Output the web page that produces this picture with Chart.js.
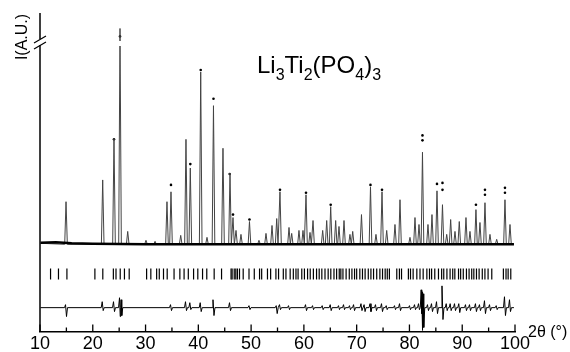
<!DOCTYPE html>
<html>
<head>
<meta charset="utf-8">
<script src="https://cdn.jsdelivr.net/npm/chart.js@4/dist/chart.umd.min.js"></script>
<style>
  body { margin: 0; background: #fff; }
  #wrap { width: 570px; height: 352px; }
</style>
</head>
<body>
<div id="wrap"><canvas id="myChart"></canvas></div>
<script>
// peak positions (2theta) and calculated heights above background
const peakPos = [14.93, 21.88, 24.02, 25.16, 26.62, 30.08, 31.8, 34.06, 34.82, 36.66, 37.66, 38.48,
  40.45, 41.64, 42.87, 44.67, 46.0, 46.57, 47.14, 48.08, 49.69, 51.49, 52.82, 53.96, 54.85, 55.47,
  57.18, 57.69, 59.07, 59.83, 60.4, 61.16, 61.73, 63.56, 64.32, 65.08, 66.02, 66.65, 67.6, 68.73,
  69.25, 70.91, 72.62, 73.66, 74.8, 75.69, 77.26, 78.21, 80.1, 81.05, 81.81, 82.47, 83.51, 84.27,
  85.22, 86.26, 87.06, 87.81, 88.63, 89.44, 90.71, 91.47, 92.6, 93.36, 94.31, 95.26, 96.53, 98.1, 99.05]
const peakCalc = [43, 65, 107, 218, 13, 4, 3, 43, 53, 9, 106, 77,
  174, 7, 140, 97, 72, 27, 14, 10, 23, 4, 11, 19, 26, 53,
  17, 11, 14, 14, 50, 12, 24, 14, 24, 38, 24, 18, 24, 10,
  13, 30, 58, 10, 53, 14, 20, 45, 7, 27, 20, 93, 20, 30,
  54, 40, 10, 25, 13, 23, 27, 13, 35, 22, 42, 10, 5, 45, 20]

// observed points sitting above the calculated peak tops
const obsX = [24.02, 25.16, 34.82, 38.48, 40.45, 42.87, 45.94, 46.57, 49.69, 55.47, 60.4, 65.08,
  72.62, 74.8, 82.47, 82.47, 85.22, 86.26, 86.26, 92.6, 94.31, 94.31, 98.1, 98.1]
const obsY = [106, 210, 60, 81, 176, 147, 71, 30, 25, 55, 52, 40,
  60, 55, 110, 105, 61, 62, 55, 40, 55, 50, 57, 52]

// background of observed pattern
const bgX = [10.1, 13, 16, 20, 30, 40, 50, 60, 70, 80, 90, 99.8]
const bgY = [1.5, 2, 1, 0.5, 0, 0, 0, 0, 0, 0, 0, 0]

// Bragg reflection positions
const braggPos = [12.0, 13.5, 15.1, 20.4, 21.9, 23.9, 24.4, 25.2, 26.0, 26.9, 30.2, 31.0, 32.1, 32.6,
  33.4, 34.1, 35.4, 36.5, 37.3, 38.1, 39.1, 39.9, 40.8, 41.6, 43.0, 44.4, 46.2, 46.4, 46.8, 47.1,
  47.4, 47.8, 48.5, 49.6, 50.6, 51.6, 52.0, 53.1, 53.7, 54.7, 55.2, 56.1, 56.6, 57.4, 58.0, 58.5,
  58.9, 59.6, 60.1, 60.7, 61.2, 61.8, 62.4, 62.9, 63.4, 64.0, 64.6, 65.1, 65.7, 66.2, 66.7, 67.0,
  67.4, 68.0, 68.6, 69.1, 69.6, 70.0, 70.6, 71.1, 71.6, 72.2, 72.7, 73.2, 73.8, 74.4, 74.9, 75.4,
  75.8, 76.2, 77.6, 78.1, 78.5, 79.8, 80.2, 80.7, 81.4, 82.0, 82.6, 83.3, 83.8, 84.2, 84.8, 85.5,
  86.1, 86.5, 87.1, 87.7, 88.2, 88.6, 89.3, 89.7, 90.2, 90.8, 91.3, 91.8, 92.2, 92.7, 93.2, 93.8,
  94.3, 94.9, 95.6, 97.8, 98.3, 98.7, 99.2]
const braggLevel = -30

// difference curve (obs - calc): spike positions with their up / down excursions
const diffPos = [14.93, 21.88, 24.02, 25.16, 25.4, 34.82, 37.66, 38.48, 40.45, 42.87, 46.0, 49.69,
  54.85, 55.47, 57.18, 60.4, 61.73, 63.56, 65.08, 66.65, 67.6, 68.73, 69.5, 70.91, 71.5, 72.62,
  73.66, 74.8, 75.69, 77.26, 78.21, 80.1, 81.05, 81.81, 82.3, 82.47, 82.62, 83.51, 84.27, 85.22,
  86.26, 87.06, 87.81, 88.63, 89.44, 90.71, 91.47, 92.6, 93.36, 94.31, 95.26, 96.53, 98.1, 99.05]
const diffUp = [3, 6, 6, 10, 8, 3, 6, 5, 5, 8, 5, 2,
  2, 3, 2, 3, 2, 2, 3, 2, 3, 2, 3, 4, 3, 4,
  3, 4, 2, 2, 4, 2, 3, 4, 18, 16, 14, 3, 4, 6,
  22, 4, 4, 4, 4, 3, 3, 4, 3, 7, 3, 2, 11, 8]
const diffDown = [9, 3, 4, 9, 8, 3, 3, 2, 4, 8, 3, 2,
  6, 2, 2, 3, 2, 2, 3, 2, 2, 2, 3, 3, 4, 4,
  3, 4, 2, 2, 3, 2, 2, 2, 6, 23, 20, 3, 4, 6,
  12, 3, 3, 3, 5, 3, 3, 4, 3, 6, 3, 2, 8, 4]
const diffOffset = -64

const xTicks = [10, 20, 30, 40, 50, 60, 70, 80, 90, 100]

// half-width of a mark, limited so neighbouring marks don't overlap
function halfWidths(pos, w) {
  return pos.map((p, i) => {
    let l = i > 0 ? (p - pos[i - 1]) / 2 : w
    let r = i < pos.length - 1 ? (pos[i + 1] - p) / 2 : w
    return [Math.min(w, l), Math.min(w, r)]
  })
}

let calcPts = [{x: 10.1, y: 1}]
halfWidths(peakPos, 0.25).forEach(([wl, wr], i) => {
  let p = peakPos[i]
  calcPts.push({x: p - wl, y: 0}, {x: p, y: peakCalc[i]}, {x: p + wr, y: 0})
})
calcPts.push({x: 99.8, y: 0})

let diffPts = [{x: 10.1, y: diffOffset}]
halfWidths(diffPos, 0.28).forEach(([wl, wr], i) => {
  let p = diffPos[i]
  diffPts.push({x: p - wl, y: diffOffset}, {x: p - wl / 3, y: diffOffset + diffUp[i]},
    {x: p + wr / 3, y: diffOffset - diffDown[i]}, {x: p + wr, y: diffOffset})
})
diffPts.push({x: 99.8, y: diffOffset})

const obsPts = obsX.map((x, i) => ({x: x, y: obsY[i]}))
const bgPts = bgX.map((x, i) => ({x: x, y: bgY[i]}))
const braggPts = braggPos.map(x => ({x: x, y: braggLevel}))

const decor = {
  id: 'decor',
  afterDraw(chart) {
    const c = chart.ctx
    const a = chart.chartArea
    const xs = chart.scales.x
    c.save()
    c.strokeStyle = '#000'
    c.fillStyle = '#000'
    c.lineWidth = 1.5
    // y axis with a break
    c.beginPath()
    c.moveTo(a.left, 13); c.lineTo(a.left, 39)
    c.moveTo(a.left, 45); c.lineTo(a.left, a.bottom)
    c.stroke()
    c.lineWidth = 1.2
    c.beginPath()
    c.moveTo(a.left - 6, 43); c.lineTo(a.left + 6, 36)
    c.moveTo(a.left - 6, 49); c.lineTo(a.left + 6, 42)
    c.stroke()
    // gap in the tallest peak
    let px = xs.getPixelForValue(25.16)
    c.fillStyle = '#fff'
    c.fillRect(px - 3, 41, 6, 5)
    c.fillStyle = '#000'
    // inward ticks on x axis
    c.lineWidth = 1.3
    c.beginPath()
    for (let v = 10; v <= 100; v += 5) {
      let x = xs.getPixelForValue(v)
      let len = v % 10 === 0 ? 7 : 4
      c.moveTo(x, a.bottom); c.lineTo(x, a.bottom - len)
    }
    c.stroke()
    // title with subscripts
    let parts = [['Li', 0], ['3', 1], ['Ti', 0], ['2', 1], ['(PO', 0], ['4', 1], [')', 0], ['3', 1]]
    let tx = 257
    c.textBaseline = 'alphabetic'
    c.textAlign = 'left'
    for (const [t, sub] of parts) {
      c.font = sub ? '16px Arial' : '24px Arial'
      c.fillText(t, tx, sub ? 80 : 73)
      tx += c.measureText(t).width
    }
    // axis titles
    c.font = '16px Arial'
    c.fillText('2\u03b8 (\u00b0)', 528, 337)
    c.translate(27, 37)
    c.rotate(-Math.PI / 2)
    c.textAlign = 'center'
    c.fillText('I(A.U.)', 0, 0)
    c.restore()
  }
}

let ctx = document.getElementById('myChart').getContext('2d')
let myChart = new Chart(ctx, {
  type: 'scatter',
  data: {
    datasets: [
      { label: 'background', data: bgPts, showLine: true, borderColor: '#000', borderWidth: 2.4, pointRadius: 0 },
      { label: 'calc', data: calcPts, showLine: true, borderColor: '#444', borderWidth: 1, pointRadius: 0, tension: 0 },
      { label: 'obs', data: obsPts, pointRadius: 1.3, backgroundColor: '#000', borderWidth: 0 },
      { label: 'bragg', data: braggPts, pointStyle: 'line', rotation: 90, pointRadius: 5.5, borderColor: '#000', borderWidth: 1.2 },
      { label: 'diff', data: diffPts, showLine: true, borderColor: '#000', borderWidth: 1, pointRadius: 0 }
    ]
  },
  plugins: [decor],
  options: {
    responsive: true,
    maintainAspectRatio: false,
    animation: false,
    layout: { padding: { left: 40, right: 55, top: 0, bottom: -5 } },
    plugins: { legend: { display: false }, tooltip: { enabled: false } },
    scales: {
      x: {
        type: 'linear', min: 10, max: 100,
        afterBuildTicks: s => { s.ticks = xTicks.map(v => ({value: v})) },
        grid: { display: false, drawTicks: false },
        border: { display: true, color: '#000', width: 1.5 },
        ticks: { color: '#000', font: { family: 'Arial', size: 18 }, padding: 2 }
      },
      y: { display: false, min: -88, max: 240 }
    }
  }
})
</script>
</body>
</html>
